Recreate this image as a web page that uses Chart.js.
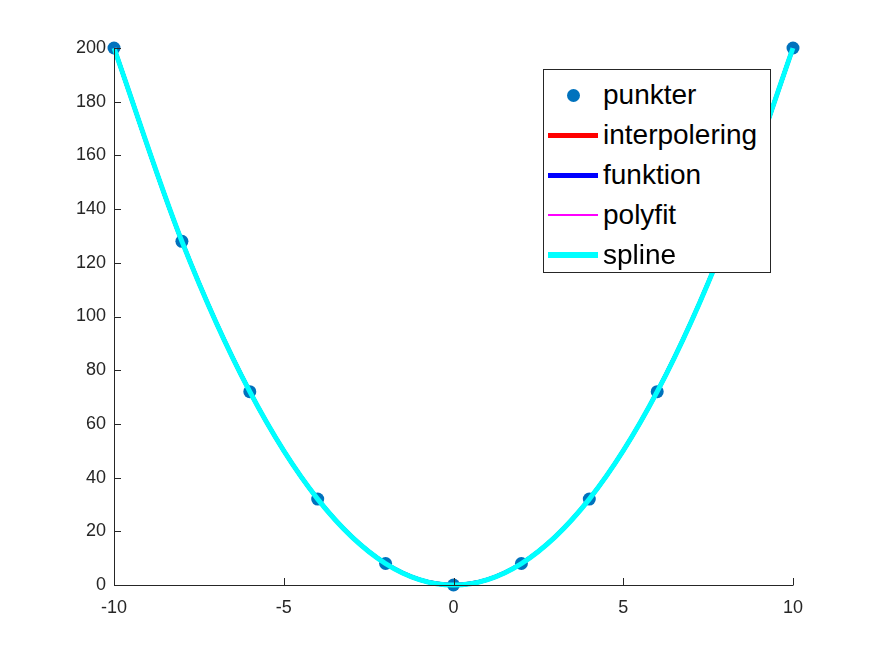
<!DOCTYPE html>
<html>
<head>
<meta charset="utf-8">
<script src="https://cdn.jsdelivr.net/npm/chart.js@4/dist/chart.umd.min.js"></script>
<style>
  body { margin: 0; background: #fff; }
  #wrap { position: relative; width: 875px; height: 656px; }
  #legend {
    position: absolute; left: 543px; top: 69px; width: 226px; height: 202px;
    background: #fff; border: 1px solid #262626;
    font-family: "Liberation Sans", Arial, sans-serif; font-size: 28px; color: #000;
  }
  .row { position: absolute; left: 0; height: 40px; display: flex; align-items: center; }
  .swatch { width: 50px; height: 40px; position: relative; margin-left: 4px; margin-right: 5px; }
  .swatch span { position: absolute; left: 0; right: 0; top: 50%; }
</style>
</head>
<body>
<div id="wrap">
  <canvas id="c" width="875" height="656"></canvas>
  <div id="legend"></div>
</div>
<script>
const xValues = [-10, -8, -6, -4, -2, 0, 2, 4, 6, 8, 10];
const yValues = [200, 128, 72, 32, 8, 0, 8, 32, 72, 128, 200];
const seriesNames = ['punkter', 'interpolering', 'funktion', 'polyfit', 'spline'];
const seriesColors = ['#0072BD', '#FF0000', '#0000FF', '#FF00FF', '#00FFFF'];
const lineWidths = [0, 4, 4, 1, 5];
const xTicks = [-10, -5, 0, 5, 10];

const pts = xValues.map((x, i) => ({ x: x, y: yValues[i] }));
const axisColor = '#262626';

const datasets = seriesNames.map((name, i) => {
  if (i === 0) {
    return {
      label: name, data: pts, showLine: false, order: 10, clip: false,
      pointRadius: 6.5, pointBackgroundColor: seriesColors[0], pointBorderWidth: 0
    };
  }
  return {
    label: name, data: pts, showLine: true, order: 5 - i, clip: 4,
    borderColor: seriesColors[i], borderWidth: lineWidths[i],
    pointRadius: 0, cubicInterpolationMode: 'monotone', fill: false
  };
});

// inward tick marks like the original
const innerTicks = {
  id: 'innerTicks',
  afterDraw(chart) {
    const ctx = chart.ctx, a = chart.chartArea;
    const xs = chart.scales.x, ys = chart.scales.y;
    ctx.save();
    ctx.strokeStyle = axisColor;
    ctx.lineWidth = 1;
    ctx.beginPath();
    ctx.moveTo(a.left + 0.5, a.top);
    ctx.lineTo(a.left + 0.5, a.bottom + 0.5);
    ctx.lineTo(a.right + 0.5, a.bottom + 0.5);
    xs.ticks.forEach(t => {
      const p = Math.round(xs.getPixelForValue(t.value)) + 0.5;
      ctx.moveTo(p, a.bottom);
      ctx.lineTo(p, a.bottom - 7);
    });
    ys.ticks.forEach(t => {
      const p = Math.round(ys.getPixelForValue(t.value)) + 0.5;
      ctx.moveTo(a.left, p);
      ctx.lineTo(a.left + 7, p);
    });
    ctx.stroke();
    ctx.restore();
  }
};

new Chart(document.getElementById('c'), {
  type: 'scatter',
  data: { datasets: datasets },
  options: {
    responsive: false,
    animation: false,
    layout: { padding: { top: 48, right: 82, left: 0, bottom: 0 } },
    plugins: { legend: { display: false }, tooltip: { enabled: false } },
    scales: {
      x: {
        type: 'linear', min: -10, max: 10,
        afterBuildTicks: s => { s.ticks = xTicks.map(v => ({ value: v })); },
        afterFit: s => { s.height = 71; },
        grid: { display: false, drawTicks: false },
        border: { display: false },
        ticks: { color: axisColor, padding: 12, font: { family: 'Liberation Sans', size: 18 } }
      },
      y: {
        min: 0, max: 200,
        afterFit: s => { s.width = 114; },
        grid: { display: false, drawTicks: false },
        border: { display: false },
        ticks: { stepSize: 20, color: axisColor, padding: 8, font: { family: 'Liberation Sans', size: 18 } }
      }
    }
  },
  plugins: [innerTicks]
});

// legend box
const legend = document.getElementById('legend');
seriesNames.forEach((name, i) => {
  const row = document.createElement('div');
  row.className = 'row';
  row.style.top = (5 + i * 40) + 'px';
  const sw = document.createElement('div');
  sw.className = 'swatch';
  const mark = document.createElement('span');
  if (i === 0) {
    mark.style.cssText = 'left:19px;right:auto;width:13px;height:13px;margin-top:-6.5px;border-radius:50%;background:' + seriesColors[0];
  } else {
    const w = i === 3 ? 1.5 : (i === 4 ? 6 : 5);
    mark.style.cssText = 'height:' + w + 'px;margin-top:' + (-w / 2) + 'px;background:' + seriesColors[i];
  }
  sw.appendChild(mark);
  const txt = document.createElement('span');
  txt.textContent = name;
  row.appendChild(sw);
  row.appendChild(txt);
  legend.appendChild(row);
});
</script>
</body>
</html>
